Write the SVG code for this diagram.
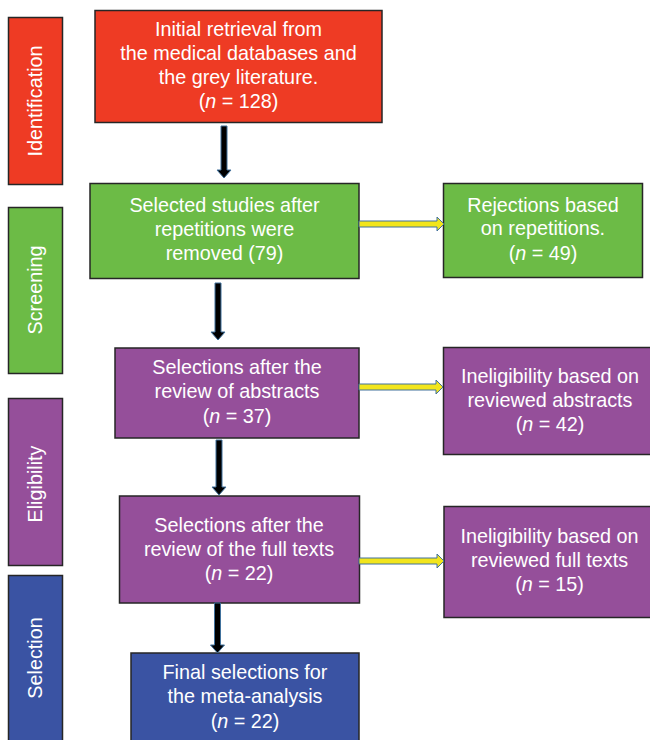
<svg xmlns="http://www.w3.org/2000/svg" width="650" height="740" viewBox="0 0 650 740">
<style>
.box{stroke:#262626;stroke-width:1.5}
.red{fill:#EE3B24}.green{fill:#6CBB46}.purple{fill:#954F9A}.blue{fill:#3A53A3}
.t{font-family:"Liberation Sans",Arial,sans-serif;font-size:19.8px;fill:#FFFFFF;text-anchor:middle}
.down{fill:#000000;stroke:#41719C;stroke-width:1}
.side{fill:#F2E51C;stroke:#41719C;stroke-width:1}
</style>
<rect width="650" height="740" fill="#FFFFFF"/>
<g id="stage-identification">
<rect class="box red" x="8.5" y="17.5" width="54" height="167"/>
<text class="t" transform="translate(41.5,101) rotate(-90)">Identification</text>
</g>
<g id="stage-screening">
<rect class="box green" x="8.5" y="207.5" width="54" height="166"/>
<text class="t" transform="translate(41.5,290) rotate(-90)">Screening</text>
</g>
<g id="stage-eligibility">
<rect class="box purple" x="8.5" y="398.5" width="54" height="167"/>
<text class="t" transform="translate(41.5,484) rotate(-90)">Eligibility</text>
</g>
<g id="stage-selection">
<rect class="box blue" x="8.5" y="575.5" width="54" height="170"/>
<text class="t" transform="translate(41.5,658) rotate(-90)">Selection</text>
</g>
<g id="n-initial">
<rect class="box red" x="95" y="10.5" width="287" height="112"/>
<text class="t" x="238.5" y="35.5">Initial retrieval from</text>
<text class="t" x="238.5" y="59.5">the medical databases and</text>
<text class="t" x="238.5" y="83.5">the grey literature.</text>
<text class="t" x="238.5" y="107.5">(<tspan font-style="italic">n</tspan> = 128)</text>
</g>
<g id="n-selected">
<rect class="box green" x="90" y="183.5" width="269" height="95"/>
<text class="t" x="224.5" y="212">Selected studies after</text>
<text class="t" x="224.5" y="236">repetitions were</text>
<text class="t" x="224.5" y="260">removed (79)</text>
</g>
<g id="n-rejections">
<rect class="box green" x="443.5" y="183.5" width="199" height="94"/>
<text class="t" x="543" y="211.5">Rejections based</text>
<text class="t" x="543" y="235">on repetitions.</text>
<text class="t" x="543" y="259.5">(<tspan font-style="italic">n</tspan> = 49)</text>
</g>
<g id="n-abstracts">
<rect class="box purple" x="115" y="348" width="244" height="90"/>
<text class="t" x="237" y="374">Selections after the</text>
<text class="t" x="237" y="398">review of abstracts</text>
<text class="t" x="237" y="422.5">(<tspan font-style="italic">n</tspan> = 37)</text>
</g>
<g id="n-inelig-abstracts">
<rect class="box purple" x="443.5" y="347.5" width="220" height="107"/>
<text class="t" x="550" y="383">Ineligibility based on</text>
<text class="t" x="550" y="406.5">reviewed abstracts</text>
<text class="t" x="550" y="430.5">(<tspan font-style="italic">n</tspan> = 42)</text>
</g>
<g id="n-fulltexts">
<rect class="box purple" x="119.5" y="496" width="240" height="107"/>
<text class="t" x="239" y="531.5">Selections after the</text>
<text class="t" x="239" y="555.5">review of the full texts</text>
<text class="t" x="239" y="579.5">(<tspan font-style="italic">n</tspan> = 22)</text>
</g>
<g id="n-inelig-fulltexts">
<rect class="box purple" x="444" y="506.5" width="220" height="111"/>
<text class="t" x="549.5" y="543">Ineligibility based on</text>
<text class="t" x="549.5" y="566.5">reviewed full texts</text>
<text class="t" x="549.5" y="590.5">(<tspan font-style="italic">n</tspan> = 15)</text>
</g>
<g id="n-final">
<rect class="box blue" x="131" y="653" width="228" height="95"/>
<text class="t" x="245" y="679">Final selections for</text>
<text class="t" x="245" y="703">the meta-analysis</text>
<text class="t" x="245" y="728">(<tspan font-style="italic">n</tspan> = 22)</text>
</g>
<g id="connectors">
<polygon class="down" points="221,126 227,126 227,170 231,170 224,178 217,170 221,170"/>
<polygon class="down" points="215,283 221,283 221,332 225,332 218,340 211,332 215,332"/>
<polygon class="down" points="216,440 222,440 222,487 226,487 219,495 212,487 216,487"/>
<polygon class="down" points="214.5,603 220.5,603 220.5,645 224.5,645 217.5,653 210.5,645 214.5,645"/>
<polygon class="side" points="359,221 437,221 437,217 444,224 437,231 437,227 359,227"/>
<polygon class="side" points="359,384 436,384 436,380 443,387 436,394 436,390 359,390"/>
<polygon class="side" points="359,558 437,558 437,554 444,561 437,568 437,564 359,564"/>
</g>
</svg>
